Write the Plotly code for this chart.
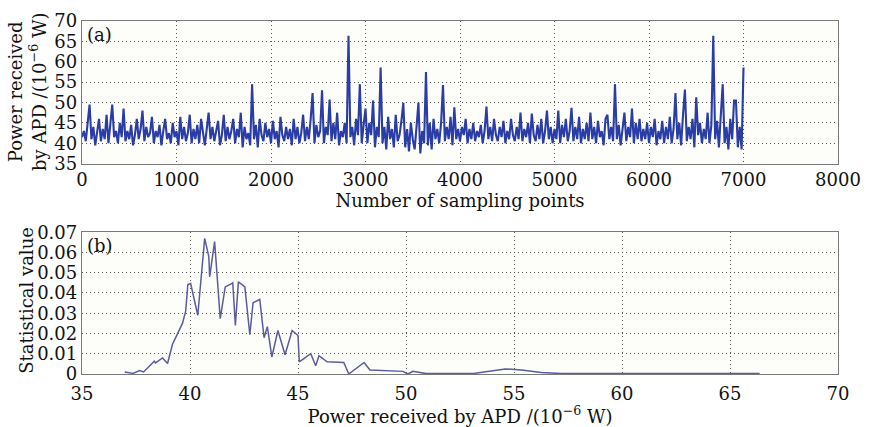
import plotly.graph_objects as go
from plotly.subplots import make_subplots

# ---- data (a): received power, one value per 20 sampling points ----
sample_step = 20
power_a = [
    41.5, 43, 40.5, 45, 49.5, 41, 44, 39.5, 42.5, 46,
    40.5, 43.5, 41, 47, 40, 44.5, 49.5, 41.5, 43, 40,
    45, 41.5, 48.5, 40.5, 43, 41, 44.5, 39.5, 42, 46,
    41, 43.5, 48, 40.5, 44, 41.5, 42.5, 46.5, 40, 43,
    41.5, 44.5, 39.5, 43, 46, 41, 42.5, 40, 45, 41.5,
    43, 39.5, 46.5, 41, 44, 40.5, 42.5, 47, 40, 43.5,
    41, 44.5, 40, 46, 42, 39.5, 43.5, 47.5, 41, 44,
    40.5, 43, 45.5, 39.5, 42, 47, 40.5, 44, 41, 43,
    46, 40, 43.5, 41.5, 47.5, 39, 44, 41, 42.5, 39.5,
    54.5, 41, 44.5, 39, 46, 42, 40.5, 45, 41.5, 43.5,
    40, 45.5, 41, 43, 39, 46.5, 42, 40.5, 44, 41,
    43.5, 39.5, 46, 41, 44, 40, 42.5, 47, 40.5, 44,
    41, 46, 52.3, 40, 44.5, 41.5, 43, 53, 40, 44,
    42, 50.7, 40.5, 45, 41, 47.5, 39.5, 43, 41.5, 45,
    40, 66.4, 41.5, 44, 39.5, 46, 42, 54.5, 40, 44.5,
    48.5, 40, 45, 42, 50.5, 39, 44, 41.5, 58.6, 40,
    44, 38.5, 46.5, 41, 43.5, 39, 47, 40.5, 42, 45.5,
    49.9, 39, 43.5, 38, 45, 41, 38.5, 44, 50, 37.5,
    43, 40, 57.5, 39.5, 45, 38.5, 46, 41, 43.5, 40,
    45, 54.3, 40.5, 44, 41, 46.5, 39.5, 48.8, 41, 43.5,
    40.5, 44, 42, 46, 40, 43.5, 41, 45, 40.5, 43,
    41.5, 44.5, 40, 43, 49, 41, 44, 40.5, 46, 42,
    40.5, 44, 41.5, 45.5, 40, 43, 41, 46, 42, 40.5,
    44, 41, 47.5, 40.5, 43.5, 41.5, 45, 40, 47.3, 42,
    40.5, 44.5, 41, 46, 40, 43, 48, 41, 44, 40,
    43.5, 41, 48, 40, 44.5, 41.5, 46, 40.5, 43, 48.7,
    40.5, 44, 41, 46.5, 40, 43.5, 41, 45, 40.5, 47.5,
    41, 44, 40, 45.5, 41.5, 43, 39.5, 46, 47, 41,
    44, 40.5, 54.5, 41, 44.5, 39.5, 43, 47.5, 40.5, 44,
    41.5, 48.5, 40, 45, 41, 46, 40.5, 43.5, 41, 45,
    40, 44, 41.5, 46, 39.5, 43, 41, 45.5, 40, 44,
    41, 46.5, 40, 43.5, 52.3, 41, 45, 39.5, 47, 53.2,
    40.5, 44, 41, 46, 39, 51.3, 42, 45, 40, 43.5,
    41, 47.5, 40, 44.5, 66.4, 41, 45.5, 39, 47, 54.5,
    40, 44, 38.5, 46, 41, 50.5, 50.5, 39, 44, 38.5,
    58.6,
]
samples_a = [i * sample_step for i in range(len(power_a))]

# ---- data (b): statistical distribution ----
power_b = [36.98, 37.36, 37.67, 37.85, 38.35, 38.4, 38.73, 38.96, 39.19, 39.42,
           39.65, 39.8, 39.9, 40.03, 40.36, 40.68, 40.87, 40.91, 41.14, 41.4,
           41.63, 41.9, 41.98, 42.1, 42.24, 42.54, 42.77, 42.92, 43.23, 43.43,
           43.58, 43.79, 44.07, 44.4, 44.73, 45.0, 45.06, 45.59, 45.82, 45.97,
           46.35, 47.12, 47.35, 48.06, 48.33, 49.86, 50.09, 50.32, 50.93, 53.2,
           54.6, 55.35, 56.26, 57.18, 60.0, 63.0, 66.37]
stat_b = [0.001, 0.0003, 0.0017, 0.001, 0.0063, 0.0055, 0.0079, 0.0052, 0.0147, 0.0199,
          0.025, 0.031, 0.0442, 0.0447, 0.029, 0.067, 0.058, 0.048, 0.0654, 0.0273,
          0.043, 0.0445, 0.045, 0.024, 0.0455, 0.043, 0.0194, 0.0352, 0.0368, 0.0179,
          0.0234, 0.0084, 0.0215, 0.0095, 0.0215, 0.019, 0.006, 0.01, 0.0041, 0.009,
          0.006, 0.0057, 0.0, 0.0057, 0.002, 0.0013, 0.0, 0.0013, 0.0002, 0.0004,
          0.0025, 0.002, 0.0008, 0.0002, 0.0003, 0.0003, 0.0003]

ticks_a_x = [0, 1000, 2000, 3000, 4000, 5000, 6000, 7000, 8000]
ticks_a_y = [35, 40, 45, 50, 55, 60, 65, 70]
ticks_b_x = [35, 40, 45, 50, 55, 60, 65, 70]
ticks_b_y = [0, 0.01, 0.02, 0.03, 0.04, 0.05, 0.06, 0.07]
ticks_b_y_text = ["0", "0.01", "0.02", "0.03", "0.04", "0.05", "0.06", "0.07"]

W, H = 872, 427
ML, MR, MT, MB = 81.5, 24, 10.7, 51
FONT = "DejaVu Serif"
TXT = "#111111"

fig = make_subplots(rows=2, cols=1)
fig.add_trace(go.Scatter(x=samples_a, y=power_a, mode="lines",
                         line=dict(color="#2a3da6", width=2.1)), row=1, col=1)
fig.add_trace(go.Scatter(x=power_b, y=stat_b, mode="lines",
                         line=dict(color="#5a5c9e", width=1.5)), row=2, col=1)

def py(px):  # pixel y -> paper fraction
    return (H - MB - px) / (H - MT - MB)

def pxf(px):
    return (px - ML) / (W - ML - MR)

axis_common = dict(showline=True, linecolor="#7a7a7a", linewidth=1.3, mirror=True,
                   showgrid=True, gridcolor="#555555", griddash="1px,3px", gridwidth=1,
                   zeroline=False, ticks="", tickfont=dict(family=FONT, size=18, color=TXT))

fig.update_xaxes(axis_common)
fig.update_yaxes(axis_common)

fig.update_layout(
    xaxis=dict(domain=[0, 1], range=[0, 8000], tickvals=ticks_a_x,
               title=dict(text="Number of sampling points", font=dict(family=FONT, size=18, color=TXT), standoff=0)),
    yaxis=dict(domain=[py(158.3), 1], range=[35, 70], tickvals=ticks_a_y),
    xaxis2=dict(domain=[0, 1], range=[35, 70], tickvals=ticks_b_x, ticklabelstandoff=3,
                title=dict(text="Power received by APD /(10<sup>\u22126</sup> W)", font=dict(family=FONT, size=18, color=TXT), standoff=0)),
    yaxis2=dict(domain=[0, py(229.3)], range=[0, 0.07], tickvals=ticks_b_y, ticktext=ticks_b_y_text),
    width=W, height=H,
    margin=dict(l=ML, r=MR, t=MT, b=MB),
    paper_bgcolor="white", plot_bgcolor="#fdfdf9",
    showlegend=False,
    annotations=[
        dict(text="(a)", xref="x domain", yref="y domain", x=0.004, y=0.995, xanchor="left", yanchor="top",
             showarrow=False, font=dict(family=FONT, size=18, color=TXT)),
        dict(text="(b)", xref="x2 domain", yref="y2 domain", x=0.004, y=0.995, xanchor="left", yanchor="top",
             showarrow=False, font=dict(family=FONT, size=18, color=TXT)),
        dict(text="Power received<br>by APD /(10<sup>\u22126</sup> W)", xref="paper", yref="paper",
             x=pxf(26), y=py(84), textangle=-90, showarrow=False, align="center",
             xanchor="center", yanchor="middle",
             font=dict(family=FONT, size=18, color=TXT)),
        dict(text="Statistical value", xref="paper", yref="paper",
             x=pxf(25), y=py(300), textangle=-90, showarrow=False,
             xanchor="center", yanchor="middle",
             font=dict(family=FONT, size=18, color=TXT)),
    ],
)

fig.write_html("out.html")
